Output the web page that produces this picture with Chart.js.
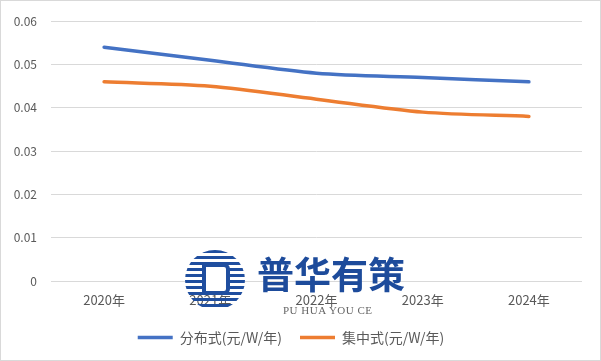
<!DOCTYPE html>
<html>
<head>
<meta charset="utf-8">
<script src="https://cdn.jsdelivr.net/npm/chart.js@4"></script>
<style>
  body { margin: 0; background: #fff; }
  #wrap { position: relative; width: 601px; height: 361px; }
  #logo {
    position: absolute; left: 185px; top: 250px; width: 60px; height: 60px; border-radius: 50%;
    background: repeating-linear-gradient(#1f4e9f 0 3px, transparent 3px 6px);
  }
  #logo .inner {
    position: absolute; left: 17px; top: 13px; width: 20px; height: 24px;
    border: 4px solid #1f4e9f; background: #fff; border-radius: 0 6px 6px 0;
  }
  #mark {
    position: absolute; left: 257px; top: 255px; font: bold 37px/1 "Noto Sans CJK SC", sans-serif;
    color: #1d4b9b; white-space: nowrap;
  }
  #markEn {
    position: absolute; left: 283px; top: 305px; font: 11px/1 "Liberation Serif", serif;
    color: #666; letter-spacing: 0.5px; white-space: nowrap;
  }
</style>
</head>
<body>
<div id="wrap">
  <canvas id="chart" width="601" height="361"></canvas>
  <div id="logo"><div class="inner"></div></div>
  <div id="mark">普华有策</div>
  <div id="markEn">PU HUA YOU CE</div>
</div>
<script>
const years = ["2020年", "2021年", "2022年", "2023年", "2024年"];
const distributed = [0.054, 0.051, 0.048, 0.047, 0.046];
const centralized = [0.046, 0.045, 0.042, 0.039, 0.038];

const fontFamily = "'Noto Sans CJK SC', 'Microsoft YaHei', sans-serif";
const textColor = "#595959";

// light frame round the whole picture
const frame = {
  id: "frame",
  beforeDraw(chart) {
    const c = chart.ctx;
    c.save();
    c.fillStyle = "#fff";
    c.fillRect(0, 0, chart.width, chart.height);
    c.restore();
  },
  afterDraw(chart) {
    const c = chart.ctx;
    c.save();
    c.strokeStyle = "#d9d9d9";
    c.lineWidth = 1;
    c.strokeRect(0.5, 0.5, chart.width - 1, chart.height - 1);
    c.restore();
  }
};

new Chart(document.getElementById("chart"), {
  type: "line",
  data: {
    labels: years,
    datasets: [
      {
        label: "分布式(元/W/年)",
        data: distributed,
        borderColor: "#4472c4",
        backgroundColor: "#4472c4",
        borderWidth: 3.5,
        borderCapStyle: "round",
        pointRadius: 0,
        tension: 0.3
      },
      {
        label: "集中式(元/W/年)",
        data: centralized,
        borderColor: "#ed7d31",
        backgroundColor: "#ed7d31",
        borderWidth: 3.5,
        borderCapStyle: "round",
        pointRadius: 0,
        tension: 0.3
      }
    ]
  },
  options: {
    responsive: false,
    animation: false,
    layout: { padding: { left: 0, right: 19, top: 19, bottom: 6.5 } },
    plugins: {
      tooltip: { enabled: false },
      legend: {
        position: "bottom",
        labels: {
          usePointStyle: true,
          pointStyle: "line",
          pointStyleWidth: 35,
          padding: 18,
          color: textColor,
          font: { family: fontFamily, size: 14 }
        }
      }
    },
    scales: {
      x: {
        offset: true,
        grid: { display: false, drawTicks: false },
        border: { display: false },
        ticks: { color: textColor, padding: 11, font: { family: fontFamily, size: 13 } },
        afterFit(scale) { scale.height = 31.5; }
      },
      y: {
        min: 0,
        max: 0.06,
        grid: { color: "#d9d9d9", drawTicks: false },
        border: { display: false },
        ticks: {
          stepSize: 0.01,
          padding: 14,
          color: textColor,
          font: { family: fontFamily, size: 12 },
          callback: v => (v === 0 ? "0" : v.toFixed(2))
        },
        afterFit(scale) { scale.width = 51; }
      }
    }
  },
  plugins: [frame]
});
</script>
</body>
</html>
